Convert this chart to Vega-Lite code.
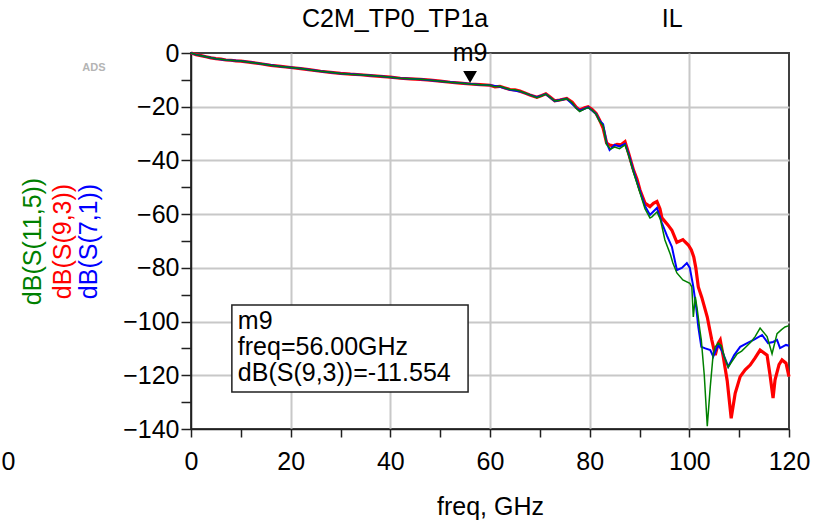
{
  "$schema": "https://vega.github.io/schema/vega-lite/v6.json",
  "width": 598,
  "height": 376,
  "autosize": {"type": "none"},
  "padding": {"left": 191, "top": 53, "right": 47, "bottom": 95},
  "background": "white",
  "title": {
    "text": "C2M_TP0_TP1a\u00a0\u00a0\u00a0\u00a0\u00a0\u00a0\u00a0\u00a0\u00a0\u00a0\u00a0\u00a0\u00a0\u00a0\u00a0\u00a0\u00a0\u00a0\u00a0\u00a0\u00a0\u00a0\u00a0\u00a0\u00a0IL",
    "anchor": "start",
    "frame": "group",
    "dx": 111,
    "offset": 9,
    "font": "Liberation Sans",
    "fontSize": 25,
    "fontWeight": "normal",
    "color": "black"
  },
  "config": {
    "view": {"stroke": "#404040", "strokeWidth": 2},
    "axis": {
      "labelFont": "Liberation Sans",
      "labelFontSize": 25,
      "labelColor": "black",
      "titleFont": "Liberation Sans",
      "titleFontSize": 25,
      "titleFontWeight": "normal",
      "titleColor": "black",
      "domainColor": "#202020",
      "domainWidth": 1.5,
      "tickColor": "#202020",
      "tickWidth": 1.5,
      "gridColor": "#c8c8c8",
      "gridWidth": 2,
      "labelOverlap": false,
      "labelFlush": false
    }
  },
  "datasets": {
    "curves": [
      {"trace": "S93", "freq": 0, "db": 0}, {"trace": "S93", "freq": 0.5, "db": -0.3}, {"trace": "S93", "freq": 1, "db": -0.6}, {"trace": "S93", "freq": 2, "db": -1.0}, {"trace": "S93", "freq": 3, "db": -1.4}, {"trace": "S93", "freq": 4, "db": -1.8}, {"trace": "S93", "freq": 5, "db": -2.1}, {"trace": "S93", "freq": 6, "db": -2.3}, {"trace": "S93", "freq": 7, "db": -2.6}, {"trace": "S93", "freq": 8, "db": -2.7}, {"trace": "S93", "freq": 9, "db": -2.9}, {"trace": "S93", "freq": 10, "db": -3.0}, {"trace": "S93", "freq": 12, "db": -3.5}, {"trace": "S93", "freq": 14, "db": -4.0}, {"trace": "S93", "freq": 16, "db": -4.6}, {"trace": "S93", "freq": 18, "db": -5.0}, {"trace": "S93", "freq": 20, "db": -5.4}, {"trace": "S93", "freq": 22, "db": -5.8}, {"trace": "S93", "freq": 24, "db": -6.3}, {"trace": "S93", "freq": 26, "db": -6.8}, {"trace": "S93", "freq": 28, "db": -7.2}, {"trace": "S93", "freq": 30, "db": -7.6}, {"trace": "S93", "freq": 32, "db": -7.9}, {"trace": "S93", "freq": 34, "db": -8.1}, {"trace": "S93", "freq": 36, "db": -8.4}, {"trace": "S93", "freq": 38, "db": -8.7}, {"trace": "S93", "freq": 40, "db": -9.0}, {"trace": "S93", "freq": 42, "db": -9.4}, {"trace": "S93", "freq": 44, "db": -9.6}, {"trace": "S93", "freq": 46, "db": -9.8}, {"trace": "S93", "freq": 48, "db": -10.1}, {"trace": "S93", "freq": 50, "db": -10.5}, {"trace": "S93", "freq": 52, "db": -10.9}, {"trace": "S93", "freq": 54, "db": -11.2}, {"trace": "S93", "freq": 56, "db": -11.55}, {"trace": "S93", "freq": 58, "db": -11.8}, {"trace": "S93", "freq": 60, "db": -12.0}, {"trace": "S93", "freq": 61, "db": -12.6}, {"trace": "S93", "freq": 62, "db": -12.4}, {"trace": "S93", "freq": 63, "db": -13.0}, {"trace": "S93", "freq": 64, "db": -13.6}, {"trace": "S93", "freq": 65, "db": -13.7}, {"trace": "S93", "freq": 66, "db": -14.2}, {"trace": "S93", "freq": 67, "db": -14.9}, {"trace": "S93", "freq": 68, "db": -15.6}, {"trace": "S93", "freq": 69.4, "db": -16.5}, {"trace": "S93", "freq": 70.4, "db": -15.8}, {"trace": "S93", "freq": 71.2, "db": -15.2}, {"trace": "S93", "freq": 72, "db": -16.3}, {"trace": "S93", "freq": 73, "db": -17.8}, {"trace": "S93", "freq": 74, "db": -17.5}, {"trace": "S93", "freq": 75.4, "db": -16.9}, {"trace": "S93", "freq": 76.5, "db": -18.3}, {"trace": "S93", "freq": 77.3, "db": -20.2}, {"trace": "S93", "freq": 78, "db": -21.2}, {"trace": "S93", "freq": 79, "db": -20.4}, {"trace": "S93", "freq": 79.7, "db": -20.0}, {"trace": "S93", "freq": 80.5, "db": -21.0}, {"trace": "S93", "freq": 81.3, "db": -22.5}, {"trace": "S93", "freq": 82, "db": -25.0},
      {"trace": "S93", "freq": 82.7, "db": -28}, {"trace": "S93", "freq": 83.4, "db": -33.5}, {"trace": "S93", "freq": 84, "db": -34.3}, {"trace": "S93", "freq": 84.7, "db": -34.6}, {"trace": "S93", "freq": 85.5, "db": -34}, {"trace": "S93", "freq": 86.3, "db": -34.2}, {"trace": "S93", "freq": 87.1, "db": -33.0}, {"trace": "S93", "freq": 87.8, "db": -37.2}, {"trace": "S93", "freq": 88.8, "db": -43.6}, {"trace": "S93", "freq": 89.5, "db": -47}, {"trace": "S93", "freq": 90.1, "db": -51}, {"trace": "S93", "freq": 91.1, "db": -55.9}, {"trace": "S93", "freq": 92.1, "db": -57.2}, {"trace": "S93", "freq": 92.8, "db": -56}, {"trace": "S93", "freq": 93.5, "db": -55.3}, {"trace": "S93", "freq": 94.1, "db": -58}, {"trace": "S93", "freq": 94.5, "db": -61.4}, {"trace": "S93", "freq": 95.7, "db": -64}, {"trace": "S93", "freq": 96.5, "db": -66}, {"trace": "S93", "freq": 97.5, "db": -70.5}, {"trace": "S93", "freq": 98.7, "db": -69.5}, {"trace": "S93", "freq": 99.8, "db": -71.5}, {"trace": "S93", "freq": 100.4, "db": -73.3}, {"trace": "S93", "freq": 100.9, "db": -76}, {"trace": "S93", "freq": 101.3, "db": -80}, {"trace": "S93", "freq": 101.8, "db": -87.1}, {"trace": "S93", "freq": 102.5, "db": -91}, {"trace": "S93", "freq": 103.6, "db": -98.3}, {"trace": "S93", "freq": 104.5, "db": -106.8}, {"trace": "S93", "freq": 105.2, "db": -112.5}, {"trace": "S93", "freq": 105.8, "db": -108}, {"trace": "S93", "freq": 106.2, "db": -106.8}, {"trace": "S93", "freq": 106.8, "db": -113}, {"trace": "S93", "freq": 107.6, "db": -122}, {"trace": "S93", "freq": 108.4, "db": -136}, {"trace": "S93", "freq": 109.2, "db": -126.7}, {"trace": "S93", "freq": 110.2, "db": -120.5}, {"trace": "S93", "freq": 111.2, "db": -118}, {"trace": "S93", "freq": 112.2, "db": -116.2}, {"trace": "S93", "freq": 113.2, "db": -113.5}, {"trace": "S93", "freq": 114.2, "db": -110.6}, {"trace": "S93", "freq": 115.6, "db": -112.5}, {"trace": "S93", "freq": 116.2, "db": -120}, {"trace": "S93", "freq": 116.8, "db": -128.5}, {"trace": "S93", "freq": 117.2, "db": -121.7}, {"trace": "S93", "freq": 118, "db": -116}, {"trace": "S93", "freq": 118.6, "db": -114.3}, {"trace": "S93", "freq": 119.4, "db": -115.5}, {"trace": "S93", "freq": 120, "db": -120.5},

      {"trace": "S71", "freq": 0, "db": 0}, {"trace": "S71", "freq": 1, "db": -0.6}, {"trace": "S71", "freq": 3, "db": -1.4}, {"trace": "S71", "freq": 5, "db": -2.1}, {"trace": "S71", "freq": 7, "db": -2.6}, {"trace": "S71", "freq": 10, "db": -3.0}, {"trace": "S71", "freq": 14, "db": -4.0}, {"trace": "S71", "freq": 18, "db": -5.0}, {"trace": "S71", "freq": 22, "db": -5.8}, {"trace": "S71", "freq": 26, "db": -6.8}, {"trace": "S71", "freq": 30, "db": -7.6}, {"trace": "S71", "freq": 34, "db": -8.1}, {"trace": "S71", "freq": 38, "db": -8.7}, {"trace": "S71", "freq": 42, "db": -9.4}, {"trace": "S71", "freq": 46, "db": -9.8}, {"trace": "S71", "freq": 50, "db": -10.5}, {"trace": "S71", "freq": 54, "db": -11.2}, {"trace": "S71", "freq": 58, "db": -11.8}, {"trace": "S71", "freq": 60, "db": -12.0}, {"trace": "S71", "freq": 62, "db": -12.6}, {"trace": "S71", "freq": 64, "db": -13.7}, {"trace": "S71", "freq": 66, "db": -14.3}, {"trace": "S71", "freq": 68, "db": -15.6}, {"trace": "S71", "freq": 69.4, "db": -16.5}, {"trace": "S71", "freq": 71.2, "db": -15.3}, {"trace": "S71", "freq": 73, "db": -17.9}, {"trace": "S71", "freq": 75.4, "db": -17.0}, {"trace": "S71", "freq": 77.3, "db": -20.4}, {"trace": "S71", "freq": 78, "db": -21.5}, {"trace": "S71", "freq": 79.7, "db": -20.2}, {"trace": "S71", "freq": 81.3, "db": -22.7}, {"trace": "S71", "freq": 82, "db": -25.2},
      {"trace": "S71", "freq": 82.7, "db": -26.5}, {"trace": "S71", "freq": 83.4, "db": -33.5}, {"trace": "S71", "freq": 84, "db": -36.1}, {"trace": "S71", "freq": 85, "db": -34.2}, {"trace": "S71", "freq": 86, "db": -34.8}, {"trace": "S71", "freq": 87.1, "db": -33.8}, {"trace": "S71", "freq": 87.8, "db": -37.5}, {"trace": "S71", "freq": 88.8, "db": -44}, {"trace": "S71", "freq": 90.1, "db": -51.5}, {"trace": "S71", "freq": 91.1, "db": -57}, {"trace": "S71", "freq": 92.1, "db": -60.3}, {"trace": "S71", "freq": 93.5, "db": -57.7}, {"trace": "S71", "freq": 94.5, "db": -63.3}, {"trace": "S71", "freq": 95.5, "db": -68}, {"trace": "S71", "freq": 96.5, "db": -72.2}, {"trace": "S71", "freq": 97.5, "db": -80.8}, {"trace": "S71", "freq": 98.5, "db": -80}, {"trace": "S71", "freq": 99.5, "db": -78.2}, {"trace": "S71", "freq": 100.1, "db": -80}, {"trace": "S71", "freq": 100.8, "db": -87.1}, {"trace": "S71", "freq": 101.4, "db": -95}, {"trace": "S71", "freq": 101.8, "db": -102}, {"trace": "S71", "freq": 102.4, "db": -109.4}, {"trace": "S71", "freq": 103.2, "db": -110}, {"trace": "S71", "freq": 104.2, "db": -110.6}, {"trace": "S71", "freq": 104.8, "db": -113}, {"trace": "S71", "freq": 105.8, "db": -108.7}, {"trace": "S71", "freq": 106.6, "db": -111}, {"trace": "S71", "freq": 107.8, "db": -116.8}, {"trace": "S71", "freq": 109, "db": -112.5}, {"trace": "S71", "freq": 110.2, "db": -109.4}, {"trace": "S71", "freq": 111.6, "db": -108}, {"trace": "S71", "freq": 112.9, "db": -106.8}, {"trace": "S71", "freq": 114.6, "db": -105}, {"trace": "S71", "freq": 115.8, "db": -108}, {"trace": "S71", "freq": 116.8, "db": -107.6}, {"trace": "S71", "freq": 117.6, "db": -106.8}, {"trace": "S71", "freq": 118.2, "db": -109.9}, {"trace": "S71", "freq": 119.4, "db": -108.7}, {"trace": "S71", "freq": 120, "db": -109},

      {"trace": "S115", "freq": 0, "db": 0}, {"trace": "S115", "freq": 0.5, "db": -0.3}, {"trace": "S115", "freq": 1, "db": -0.6}, {"trace": "S115", "freq": 2, "db": -1.0}, {"trace": "S115", "freq": 3, "db": -1.4}, {"trace": "S115", "freq": 4, "db": -1.8}, {"trace": "S115", "freq": 5, "db": -2.1}, {"trace": "S115", "freq": 6, "db": -2.3}, {"trace": "S115", "freq": 7, "db": -2.6}, {"trace": "S115", "freq": 8, "db": -2.7}, {"trace": "S115", "freq": 9, "db": -2.9}, {"trace": "S115", "freq": 10, "db": -3.0}, {"trace": "S115", "freq": 12, "db": -3.5}, {"trace": "S115", "freq": 14, "db": -4.0}, {"trace": "S115", "freq": 16, "db": -4.6}, {"trace": "S115", "freq": 18, "db": -5.0}, {"trace": "S115", "freq": 20, "db": -5.4}, {"trace": "S115", "freq": 22, "db": -5.8}, {"trace": "S115", "freq": 24, "db": -6.3}, {"trace": "S115", "freq": 26, "db": -6.8}, {"trace": "S115", "freq": 28, "db": -7.2}, {"trace": "S115", "freq": 30, "db": -7.6}, {"trace": "S115", "freq": 32, "db": -7.9}, {"trace": "S115", "freq": 34, "db": -8.1}, {"trace": "S115", "freq": 36, "db": -8.4}, {"trace": "S115", "freq": 38, "db": -8.7}, {"trace": "S115", "freq": 40, "db": -9.0}, {"trace": "S115", "freq": 42, "db": -9.4}, {"trace": "S115", "freq": 44, "db": -9.6}, {"trace": "S115", "freq": 46, "db": -9.8}, {"trace": "S115", "freq": 48, "db": -10.1}, {"trace": "S115", "freq": 50, "db": -10.5}, {"trace": "S115", "freq": 52, "db": -10.9}, {"trace": "S115", "freq": 54, "db": -11.2}, {"trace": "S115", "freq": 56, "db": -11.55}, {"trace": "S115", "freq": 58, "db": -11.8}, {"trace": "S115", "freq": 60, "db": -12.0}, {"trace": "S115", "freq": 61, "db": -12.6}, {"trace": "S115", "freq": 62, "db": -12.4}, {"trace": "S115", "freq": 63, "db": -13.0}, {"trace": "S115", "freq": 64, "db": -13.6}, {"trace": "S115", "freq": 65, "db": -13.7}, {"trace": "S115", "freq": 66, "db": -14.2}, {"trace": "S115", "freq": 67, "db": -14.9}, {"trace": "S115", "freq": 68, "db": -15.6}, {"trace": "S115", "freq": 69.4, "db": -16.6}, {"trace": "S115", "freq": 70.4, "db": -15.9}, {"trace": "S115", "freq": 71.2, "db": -15.3}, {"trace": "S115", "freq": 72, "db": -16.4}, {"trace": "S115", "freq": 73, "db": -17.9}, {"trace": "S115", "freq": 74, "db": -17.6}, {"trace": "S115", "freq": 75.4, "db": -17.0}, {"trace": "S115", "freq": 76.5, "db": -18.5}, {"trace": "S115", "freq": 77.3, "db": -20.6}, {"trace": "S115", "freq": 78, "db": -21.8}, {"trace": "S115", "freq": 79, "db": -20.8}, {"trace": "S115", "freq": 79.7, "db": -20.3}, {"trace": "S115", "freq": 80.5, "db": -21.3}, {"trace": "S115", "freq": 81.3, "db": -22.8}, {"trace": "S115", "freq": 82, "db": -25.5},
      {"trace": "S115", "freq": 82.7, "db": -27}, {"trace": "S115", "freq": 83.4, "db": -34}, {"trace": "S115", "freq": 84.2, "db": -35.8}, {"trace": "S115", "freq": 85, "db": -35}, {"trace": "S115", "freq": 86, "db": -35.6}, {"trace": "S115", "freq": 87.1, "db": -34.2}, {"trace": "S115", "freq": 87.8, "db": -38}, {"trace": "S115", "freq": 88.8, "db": -44.5}, {"trace": "S115", "freq": 90.1, "db": -52}, {"trace": "S115", "freq": 91.1, "db": -58}, {"trace": "S115", "freq": 92.1, "db": -61.4}, {"trace": "S115", "freq": 92.5, "db": -61}, {"trace": "S115", "freq": 93.5, "db": -59.2}, {"trace": "S115", "freq": 94.2, "db": -62}, {"trace": "S115", "freq": 95.1, "db": -69.6}, {"trace": "S115", "freq": 96.2, "db": -75}, {"trace": "S115", "freq": 96.7, "db": -78.2}, {"trace": "S115", "freq": 97.5, "db": -81.9}, {"trace": "S115", "freq": 98.7, "db": -84.5}, {"trace": "S115", "freq": 100.1, "db": -85.8}, {"trace": "S115", "freq": 100.5, "db": -87.1}, {"trace": "S115", "freq": 100.8, "db": -98.3}, {"trace": "S115", "freq": 101.2, "db": -90.8}, {"trace": "S115", "freq": 101.6, "db": -95.6}, {"trace": "S115", "freq": 102.1, "db": -103}, {"trace": "S115", "freq": 102.4, "db": -106.8}, {"trace": "S115", "freq": 103, "db": -120}, {"trace": "S115", "freq": 103.6, "db": -139}, {"trace": "S115", "freq": 104.2, "db": -124.3}, {"trace": "S115", "freq": 104.8, "db": -111.8}, {"trace": "S115", "freq": 105.2, "db": -109.4}, {"trace": "S115", "freq": 105.8, "db": -108}, {"trace": "S115", "freq": 106.4, "db": -109}, {"trace": "S115", "freq": 107, "db": -113}, {"trace": "S115", "freq": 107.8, "db": -117}, {"trace": "S115", "freq": 108.5, "db": -115}, {"trace": "S115", "freq": 109.6, "db": -112}, {"trace": "S115", "freq": 110.5, "db": -111}, {"trace": "S115", "freq": 111.6, "db": -109}, {"trace": "S115", "freq": 112.4, "db": -107.5}, {"trace": "S115", "freq": 113.2, "db": -105.6}, {"trace": "S115", "freq": 114.2, "db": -102.4}, {"trace": "S115", "freq": 115.6, "db": -105.6}, {"trace": "S115", "freq": 116.6, "db": -112}, {"trace": "S115", "freq": 117.6, "db": -104.5}, {"trace": "S115", "freq": 118.5, "db": -103}, {"trace": "S115", "freq": 119.2, "db": -102}, {"trace": "S115", "freq": 120, "db": -101.5}
    ]
  },
  "layer": [
    {
      "data": {"name": "curves"},
      "transform": [{"filter": "datum.trace === 'S93'"}],
      "mark": {"type": "line", "color": "#ff0000", "strokeWidth": 3.2, "interpolate": "linear"},
      "encoding": {
        "x": {
          "field": "freq", "type": "quantitative",
          "scale": {"domain": [0, 120], "nice": false, "zero": false},
          "axis": {
            "orient": "bottom",
            "values": [0, 10, 20, 30, 40, 50, 60, 70, 80, 90, 100, 110, 120],
            "labelExpr": "datum.value % 20 === 0 ? datum.label : ''",
            "gridOpacity": {"condition": {"test": "datum.value % 20 !== 0 || datum.value === 0 || datum.value === 120", "value": 0}, "value": 1},
            "tickSize": 8,
            "labelPadding": 12,
            "title": "freq, GHz",
            "titlePadding": 20
          }
        },
        "y": {
          "field": "db", "type": "quantitative",
          "scale": {"domain": [-140, 0], "nice": false, "zero": false},
          "axis": {
            "orient": "left",
            "values": [-140, -130, -120, -110, -100, -90, -80, -70, -60, -50, -40, -30, -20, -10, 0],
            "labelExpr": "datum.value % 20 === 0 ? datum.label : ''",
            "gridOpacity": {"condition": {"test": "datum.value % 20 !== 0 || datum.value === 0 || datum.value === -140", "value": 0}, "value": 1},
            "tickSize": 10,
            "labelPadding": 2,
            "title": "dB(S(9,3))",
            "titleColor": "#ff0000",
            "titleX": -129,
            "titleY": 188,
            "titleAngle": -90,
            "titleAlign": "center",
            "titleBaseline": "middle"
          }
        }
      }
    },
    {
      "data": {"name": "curves"},
      "transform": [{"filter": "datum.trace === 'S71'"}],
      "mark": {"type": "line", "color": "#0000ff", "strokeWidth": 2},
      "encoding": {
        "x": {
          "field": "freq", "type": "quantitative",
          "axis": {
            "orient": "bottom",
            "values": [0],
            "ticks": false, "tickSize": 0, "domain": false, "grid": false,
            "labelOffset": -183, "labelPadding": 20, "title": null
          }
        },
        "y": {
          "field": "db", "type": "quantitative",
          "axis": {
            "orient": "left",
            "labels": false, "ticks": false, "tickSize": 0, "domain": false, "grid": false,
            "title": "dB(S(7,1))",
            "titleColor": "#0000ff",
            "titleX": -103,
            "titleY": 188,
            "titleAngle": -90,
            "titleAlign": "center",
            "titleBaseline": "middle"
          }
        }
      }
    },
    {
      "data": {"name": "curves"},
      "transform": [{"filter": "datum.trace === 'S115'"}],
      "mark": {"type": "line", "color": "#008000", "strokeWidth": 1.5},
      "encoding": {
        "x": {"field": "freq", "type": "quantitative", "axis": null},
        "y": {
          "field": "db", "type": "quantitative",
          "axis": {
            "orient": "left",
            "values": [0],
            "labelExpr": "'ADS'",
            "labelColor": "#b4b4b4",
            "labelFontSize": 11,
            "labelFontWeight": "bold",
            "labelPadding": 86,
            "labelOffset": 14,
            "ticks": false, "tickSize": 0, "domain": false, "grid": false,
            "title": "dB(S(11,5))",
            "titleColor": "#008000",
            "titleX": -159,
            "titleY": 188,
            "titleAngle": -90,
            "titleAlign": "center",
            "titleBaseline": "middle"
          }
        }
      }
    },
    {
      "data": {"values": [{}]},
      "mark": {"type": "rect", "fill": "white", "stroke": "#202020", "strokeWidth": 1.5},
      "encoding": {
        "x": {"datum": 8.2, "type": "quantitative", "axis": null},
        "x2": {"datum": 55.6},
        "y": {"datum": -93.8, "type": "quantitative", "axis": null},
        "y2": {"datum": -126.2}
      }
    },
    {
      "data": {"values": [{}]},
      "mark": {"type": "text", "align": "left", "baseline": "middle", "font": "Liberation Sans", "fontSize": 25, "lineHeight": 26, "color": "black"},
      "encoding": {
        "x": {"datum": 9.4, "type": "quantitative", "axis": null},
        "y": {"datum": -99.8, "type": "quantitative", "axis": null},
        "text": {"value": ["m9", "freq=56.00GHz", "dB(S(9,3))=-11.554"]}
      }
    },
    {
      "data": {"values": [{}]},
      "mark": {"type": "point", "shape": "triangle-down", "filled": true, "color": "black", "opacity": 1, "size": 190, "yOffset": -7},
      "encoding": {
        "x": {"datum": 56, "type": "quantitative", "axis": null},
        "y": {"datum": -11.554, "type": "quantitative", "axis": null}
      }
    },
    {
      "data": {"values": [{}]},
      "mark": {"type": "text", "align": "center", "baseline": "middle", "font": "Liberation Sans", "fontSize": 25, "dy": -31, "color": "black"},
      "encoding": {
        "x": {"datum": 56, "type": "quantitative", "axis": null},
        "y": {"datum": -11.554, "type": "quantitative", "axis": null},
        "text": {"value": "m9"}
      }
    }
  ],
  "resolve": {"axis": {"x": "independent", "y": "independent"}}
}
